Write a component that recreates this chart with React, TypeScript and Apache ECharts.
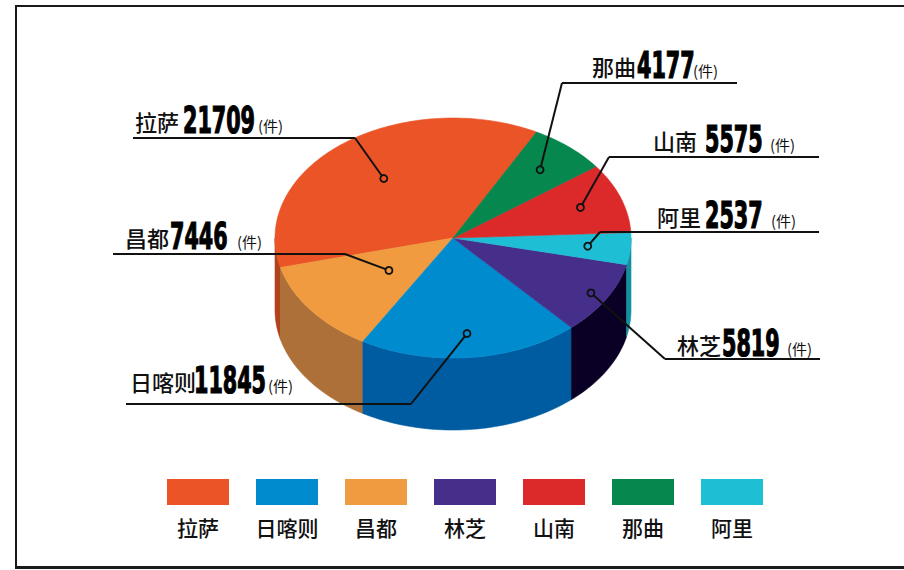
import { useEffect, useRef } from 'react';
import * as echarts from 'echarts';

// ---------- data ----------
const categories = ['拉萨', '日喀则', '昌都', '林芝', '山南', '那曲', '阿里'];
const values = [21709, 11845, 7446, 5819, 5575, 4177, 2537];
const topColors = ['#EA5427', '#008BCF', '#F09B40', '#462E8B', '#DC2A2A', '#05874E', '#1EBFD5'];
const sideColors = ['#B0431D', '#005CA1', '#AD7038', '#0A0025', '#A01F1F', '#036036', '#13909F'];
// counter-clockwise drawing order of the slices
const sliceOrder = ['拉萨', '昌都', '日喀则', '林芝', '阿里', '山南', '那曲'];
const unitText = '(件)';

// ---------- geometry ----------
const CX = 453;
const CY = 238;
const RX = 178;
const RY = 120;
const DEPTH = 72;
const START = 62;

// ---------- label layout ----------
type LabelPos = {
  nameX: number; numX: number; unitX: number; cy: number;
  lineY: number; x0: number; x1: number; jointX: number; r: number;
};
const labelLayout: Record<string, LabelPos> = {
  '拉萨': { nameX: 135, numX: 183, unitX: 258, cy: 121, lineY: 138, x0: 133, x1: 355, jointX: 355, r: 0.63 },
  '昌都': { nameX: 125, numX: 170, unitX: 237, cy: 237, lineY: 254, x0: 113, x1: 345, jointX: 345, r: 0.45 },
  '日喀则': { nameX: 130, numX: 194, unitX: 268, cy: 381, lineY: 404, x0: 126, x1: 411, jointX: 411, r: 0.8 },
  '林芝': { nameX: 677, numX: 722, unitX: 787, cy: 344, lineY: 359, x0: 665, x1: 820, jointX: 665, r: 0.9 },
  '山南': { nameX: 653, numX: 705, unitX: 770, cy: 140, lineY: 157, x0: 609, x1: 819, jointX: 609, r: 0.76 },
  '阿里': { nameX: 657, numX: 705, unitX: 771, cy: 216, lineY: 232, x0: 600, x1: 819, jointX: 600, r: 0.76 },
  '那曲': { nameX: 592, numX: 637, unitX: 693, cy: 66, lineY: 83, x0: 562, x1: 737, jointX: 562, r: 0.75 },
};

const CJK = '"Noto Sans CJK SC", "Noto Sans", sans-serif';
const NUM_FONT = 'bold 37px "DejaVu Sans Condensed", "DejaVu Sans", sans-serif';
const DIGIT_W = 14.4;

const rad = (d: number) => (d * Math.PI) / 180;
const pt = (a: number, r = 1, dy = 0): number[] => [
  CX + RX * r * Math.cos(rad(a)),
  CY - RY * r * Math.sin(rad(a)) + dy,
];

export default function App() {
  const ref = useRef<HTMLDivElement>(null);

  useEffect(() => {
    document.body.style.margin = '0';
    if (!ref.current) return;
    const chart = echarts.init(ref.current, null, { renderer: 'svg' });

    const ctx = document.createElement('canvas').getContext('2d');
    const measure = (t: string) => {
      if (!ctx) return t.length * 23;
      ctx.font = NUM_FONT;
      return ctx.measureText(t).width || t.length * 23;
    };

    const total = values.reduce((a, b) => a + b, 0);
    let acc = START;
    const slices = sliceOrder.map((name) => {
      const i = categories.indexOf(name);
      const span = (values[i] / total) * 360;
      const s = { name, i, value: values[i], a0: acc, a1: acc + span };
      acc += span;
      return s;
    });

    const seriesData = slices.map((s) => ({ name: s.name, value: [s.value, s.a0, s.a1] }));

    const graphics: any[] = [];
    // frame
    graphics.push({ type: 'line', shape: { x1: 16, y1: 6, x2: 904, y2: 6 }, style: { stroke: '#1a1a1a', lineWidth: 2 } });
    graphics.push({ type: 'line', shape: { x1: 16, y1: 5, x2: 16, y2: 569 }, style: { stroke: '#1a1a1a', lineWidth: 2 } });
    graphics.push({ type: 'line', shape: { x1: 15, y1: 567.5, x2: 904, y2: 567.5 }, style: { stroke: '#1a1a1a', lineWidth: 3 } });

    // labels
    slices.forEach((s) => {
      const L = labelLayout[s.name];
      const mid = (s.a0 + s.a1) / 2;
      const d = pt(mid, L.r);
      const numText = String(s.value);
      const sx = (DIGIT_W * numText.length) / measure(numText);
      graphics.push({ type: 'line', z: 20, shape: { x1: L.x0, y1: L.lineY, x2: L.x1, y2: L.lineY }, style: { stroke: '#111', lineWidth: 2 } });
      graphics.push({ type: 'polyline', z: 20, shape: { points: [[L.jointX, L.lineY], d] }, style: { stroke: '#111', lineWidth: 2, fill: 'none' } });
      graphics.push({ type: 'circle', z: 21, shape: { cx: d[0], cy: d[1], r: 3.5 }, style: { stroke: '#111', lineWidth: 1.8, fill: topColors[s.i] } });
      graphics.push({ type: 'text', z: 20, x: L.nameX, y: L.cy, style: { text: s.name, font: `500 22px ${CJK}`, fill: '#111', align: 'left', verticalAlign: 'middle' } });
      graphics.push({ type: 'text', z: 20, x: L.numX, y: L.cy - 1, scaleX: sx, style: { text: numText, font: NUM_FONT, fill: '#000', stroke: '#000', lineWidth: 1.2, align: 'left', verticalAlign: 'middle' } });
      graphics.push({ type: 'text', z: 20, x: L.unitX, y: L.cy + 4, style: { text: unitText, font: `normal 15px ${CJK}`, fill: '#111', align: 'left', verticalAlign: 'middle' } });
    });

    // legend
    categories.forEach((c, i) => {
      const x = 167 + i * 89;
      graphics.push({ type: 'rect', shape: { x, y: 479, width: 62, height: 26 }, style: { fill: topColors[i] } });
      graphics.push({ type: 'text', x: x + 31, y: 527, style: { text: c, font: `500 21px ${CJK}`, fill: '#111', align: 'center', verticalAlign: 'middle' } });
    });

    chart.setOption({
      animation: false,
      backgroundColor: '#ffffff',
      series: [
        {
          type: 'custom',
          name: 'side',
          coordinateSystem: 'none',
          silent: true,
          z: 2,
          data: seriesData,
          renderItem: (params: any, api: any) => {
            const s = slices[params.dataIndex];
            const a0 = Math.max(api.value(1), 180);
            const a1 = Math.min(api.value(2), 360);
            if (a1 <= a0) return { type: 'group', children: [] };
            const n = Math.max(2, Math.ceil((a1 - a0) / 1.5));
            const topPts: number[][] = [];
            const botPts: number[][] = [];
            for (let k = 0; k <= n; k++) {
              const a = a0 + ((a1 - a0) * k) / n;
              topPts.push(pt(a));
              botPts.push(pt(a, 1, DEPTH));
            }
            const pts = topPts.concat(botPts.reverse());
            const c = sideColors[s.i];
            return { type: 'polygon', shape: { points: pts }, style: { fill: c, stroke: c, lineWidth: 0.6 } };
          },
        },
        {
          type: 'custom',
          name: 'top',
          coordinateSystem: 'none',
          silent: true,
          z: 3,
          data: seriesData,
          renderItem: (params: any, api: any) => {
            const s = slices[params.dataIndex];
            const a0 = api.value(1);
            const a1 = api.value(2);
            const n = Math.max(2, Math.ceil((a1 - a0) / 1.5));
            const pts: number[][] = [[CX, CY]];
            for (let k = 0; k <= n; k++) pts.push(pt(a0 + ((a1 - a0) * k) / n));
            const c = topColors[s.i];
            return { type: 'polygon', shape: { points: pts }, style: { fill: c, stroke: c, lineWidth: 0.6 } };
          },
        },
      ],
      graphic: { elements: graphics },
    });

    return () => chart.dispose();
  }, []);

  return <div ref={ref} style={{ width: 904, height: 570 }} />;
}
